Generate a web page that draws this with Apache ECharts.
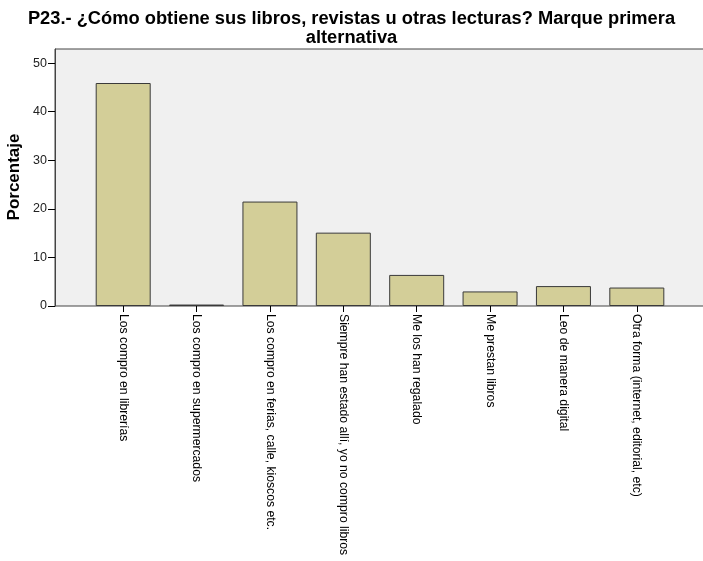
<!DOCTYPE html>
<html>
<head>
<meta charset="utf-8">
<script src="https://cdn.jsdelivr.net/npm/echarts@6/dist/echarts.min.js"></script>
<style>
html,body{margin:0;padding:0;background:#fff;}
#chart{width:703px;height:561px;}
</style>
</head>
<body>
<div id="chart"></div>
<script>
var titleText = 'P23.- ¿Cómo obtiene sus libros, revistas u otras lecturas? Marque primera\nalternativa';
var yAxisTitle = 'Porcentaje';
var categories = [
  'Los compro en librerías',
  'Los compro en supermercados',
  'Los compro en ferias, calle, kioscos etc.',
  'Siempre han estado allí, yo no compro libros',
  'Me los han regalado',
  'Me prestan libros',
  'Leo de manera digital',
  'Otra forma (internet, editorial, etc)'
];
var values = [45.9, 0.3, 21.5, 15.1, 6.4, 3.0, 4.1, 3.8];
var yTicks = [0, 10, 20, 30, 40, 50];
var yMax = 52.9;

var chart = echarts.init(document.getElementById('chart'), null, {renderer: 'canvas'});
var font = 'Liberation Sans, Arial, sans-serif';
chart.setOption({
  animation: false,
  backgroundColor: '#ffffff',
  title: {
    text: titleText,
    left: 'center',
    top: 4,
    textStyle: {fontFamily: font, fontSize: 18.3, fontWeight: 'bold', color: '#000', lineHeight: 19}
  },
  graphic: [{
    type: 'text',
    x: 14.5, y: 177,
    rotation: Math.PI / 2,
    style: {text: yAxisTitle, fontFamily: font, fontSize: 17, fontWeight: 'bold', fill: '#000', align: 'center', verticalAlign: 'middle'}
  }],
  grid: [
    {left: 55, top: 49, width: 660, height: 257, show: true, backgroundColor: '#f0f0f0', borderColor: '#444', borderWidth: 1, containLabel: false, outerBoundsMode: 'none'},
    {left: 86.5, top: 49, width: 587, height: 257, show: false, containLabel: false, outerBoundsMode: 'none'}
  ],
  xAxis: [
    {gridIndex: 0, type: 'value', min: 0, max: 1, show: false},
    {
      gridIndex: 1, type: 'category', data: categories, boundaryGap: true,
      axisLine: {show: false},
      axisTick: {show: true, alignWithLabel: true, length: 6, lineStyle: {color: '#000', width: 1}},
      axisLabel: {rotate: -90, interval: 0, margin: 8, fontFamily: font, fontSize: 12.2, color: '#000'}
    }
  ],
  yAxis: [
    {
      gridIndex: 0, type: 'value', min: 0, max: yMax, interval: 10,
      axisLine: {show: true, lineStyle: {color: '#444', width: 1}},
      axisTick: {show: true, length: 7, lineStyle: {color: '#000'}},
      axisLabel: {
        fontFamily: font, fontSize: 12.5, color: '#222', margin: 8, showMaxLabel: false,
        formatter: function (v) { return yTicks.indexOf(v) >= 0 ? String(v) : ''; }
      },
      splitLine: {show: false}
    },
    {gridIndex: 1, type: 'value', min: 0, max: yMax, show: false, splitLine: {show: false}}
  ],
  series: [{
    type: 'bar',
    xAxisIndex: 1,
    yAxisIndex: 1,
    data: values,
    barWidth: 55,
    itemStyle: {color: '#d3ce98', borderColor: '#3a3a3a', borderWidth: 1}
  }]
});
</script>
</body>
</html>
